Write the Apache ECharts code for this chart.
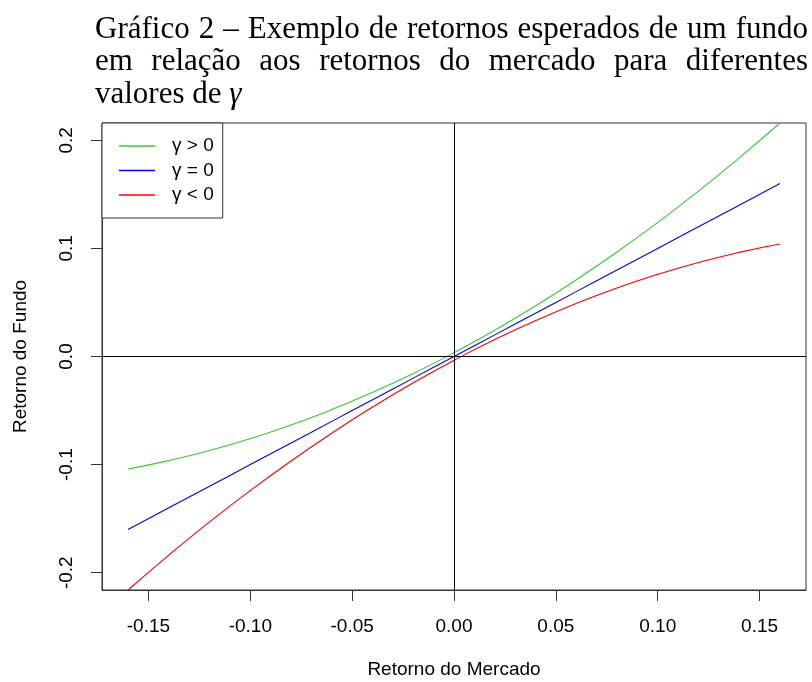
<!DOCTYPE html>
<html>
<head>
<meta charset="utf-8">
<script src="https://cdn.jsdelivr.net/npm/echarts@6/dist/echarts.min.js"></script>
<style>
  html, body { margin: 0; padding: 0; background: #fff; }
  #chart { width: 812px; height: 682px; }
</style>
</head>
<body>
<div id="chart"></div>
<script>
// Market returns (x) and expected fund returns for three gamma values
const marketReturn = [-0.16, -0.14, -0.12, -0.10, -0.08, -0.06, -0.04, -0.02, 0.00,
                      0.02, 0.04, 0.06, 0.08, 0.10, 0.12, 0.14, 0.16];
const fundGammaPos = [-0.104, -0.0963, -0.087, -0.076, -0.0634, -0.0491, -0.0332, -0.0157, 0.0035,
                      0.0243, 0.0468, 0.0709, 0.0966, 0.124, 0.153, 0.1837, 0.216];
const fundGammaZero = [-0.16, -0.14, -0.12, -0.10, -0.08, -0.06, -0.04, -0.02, 0.00,
                       0.02, 0.04, 0.06, 0.08, 0.10, 0.12, 0.14, 0.16];
const fundGammaNeg = [-0.216, -0.1837, -0.153, -0.124, -0.0966, -0.0709, -0.0468, -0.0243, -0.0035,
                      0.0157, 0.0332, 0.0491, 0.0634, 0.076, 0.087, 0.0963, 0.104];

const seriesNames = ['\u03b3 > 0', '\u03b3 = 0', '\u03b3 < 0'];
const xTicks = [-0.15, -0.10, -0.05, 0.00, 0.05, 0.10, 0.15];
const yTicks = [-0.2, -0.1, 0.0, 0.1, 0.2];

const titleLines = [
  'Gráfico 2 – Exemplo de retornos esperados de um fundo',
  'em relação aos retornos do mercado para diferentes'
];
const titleTail = 'valores de ';
const titleSymbol = '\u03b3';

const pair = (ys) => marketReturn.map((x, i) => [x, ys[i]]);

const chart = echarts.init(document.getElementById('chart'), null, { renderer: 'canvas' });

// Justified serif heading built from per-word text elements
const serif = '"Liberation Serif", "Times New Roman", serif';
const titleSize = 31;
const titleLeft = 95, titleRight = 808;
const titleY = [30, 62, 95];
const ctx = document.createElement('canvas').getContext('2d');
ctx.font = titleSize + 'px ' + serif;
const graphics = [];
titleLines.forEach((line, li) => {
  const words = line.split(' ');
  const widths = words.map(w => ctx.measureText(w).width);
  const total = widths.reduce((a, b) => a + b, 0);
  const gap = (titleRight - titleLeft - total) / (words.length - 1);
  let x = titleLeft;
  words.forEach((w, i) => {
    graphics.push({
      type: 'text', x: x, y: titleY[li],
      style: { text: w, font: titleSize + 'px ' + serif, fill: '#000',
               textAlign: 'left', textVerticalAlign: 'middle' }
    });
    x += widths[i] + gap;
  });
});
const tailWidth = ctx.measureText(titleTail).width;
graphics.push({
  type: 'text', x: titleLeft, y: titleY[2],
  style: { text: titleTail, font: titleSize + 'px ' + serif, fill: '#000',
           textAlign: 'left', textVerticalAlign: 'middle' }
});
graphics.push({
  type: 'text', x: titleLeft + tailWidth, y: titleY[2],
  style: { text: titleSymbol, font: 'italic ' + titleSize + 'px ' + serif, fill: '#000',
           textAlign: 'left', textVerticalAlign: 'middle' }
});

const sans = '"Liberation Sans", Arial, sans-serif';
const colors = ['#33cc33', '#0000ff', '#ff0000'];

chart.setOption({
  backgroundColor: '#ffffff',
  animation: false,
  graphic: graphics,
  grid: {
    left: 102, right: 6, top: 123, bottom: 92,
    show: true, borderColor: '#333', borderWidth: 1,
    containLabel: false, outerBoundsMode: 'none'
  },
  legend: {
    orient: 'vertical',
    left: 102, top: 123,
    data: seriesNames,
    icon: 'rect',
    itemWidth: 36, itemHeight: 1.4, itemGap: 5.5,
    padding: [13.5, 9, 13.5, 17],
    borderColor: '#333', borderWidth: 1,
    backgroundColor: '#fff',
    textStyle: { fontFamily: sans, fontSize: 19, color: '#000', lineHeight: 19,
                 padding: [0, 0, 0, 12] }
  },
  xAxis: {
    type: 'value', min: -0.1728, max: 0.1728,
    name: 'Retorno do Mercado', nameLocation: 'middle', nameGap: 70,
    nameTextStyle: { fontFamily: sans, fontSize: 19, color: '#000' },
    axisLine: { show: true, onZero: false, lineStyle: { color: '#333', width: 1 } },
    axisTick: { show: true, length: 11, customValues: xTicks, lineStyle: { color: '#333' } },
    axisLabel: { customValues: xTicks, formatter: v => v.toFixed(2), margin: 27,
                 fontFamily: sans, fontSize: 19, color: '#000' },
    splitLine: { show: false }
  },
  yAxis: {
    type: 'value', min: -0.216, max: 0.216,
    name: 'Retorno do Fundo', nameLocation: 'middle', nameGap: 72,
    nameTextStyle: { fontFamily: sans, fontSize: 19, color: '#000' },
    axisLine: { show: true, onZero: false, lineStyle: { color: '#333', width: 1 } },
    axisTick: { show: true, length: 11, customValues: yTicks, lineStyle: { color: '#333' } },
    axisLabel: { customValues: yTicks, formatter: v => v.toFixed(1), rotate: 90, margin: 26,
                 fontFamily: sans, fontSize: 19, color: '#000' },
    splitLine: { show: false }
  },
  series: [
    {
      name: 'zero', type: 'line', data: [], silent: true,
      markLine: {
        silent: true, symbol: 'none', animation: false,
        label: { show: false },
        lineStyle: { color: '#000', width: 1, type: 'solid' },
        data: [{ xAxis: 0 }, { yAxis: 0 }]
      }
    },
    { name: seriesNames[0], type: 'line', data: pair(fundGammaPos), symbol: 'none',
      smooth: true, lineStyle: { color: colors[0], width: 1.1 }, itemStyle: { color: colors[0] } },
    { name: seriesNames[1], type: 'line', data: pair(fundGammaZero), symbol: 'none',
      smooth: true, lineStyle: { color: colors[1], width: 1.1 }, itemStyle: { color: colors[1] } },
    { name: seriesNames[2], type: 'line', data: pair(fundGammaNeg), symbol: 'none',
      smooth: true, lineStyle: { color: colors[2], width: 1.1 }, itemStyle: { color: colors[2] } }
  ]
});
</script>
</body>
</html>
